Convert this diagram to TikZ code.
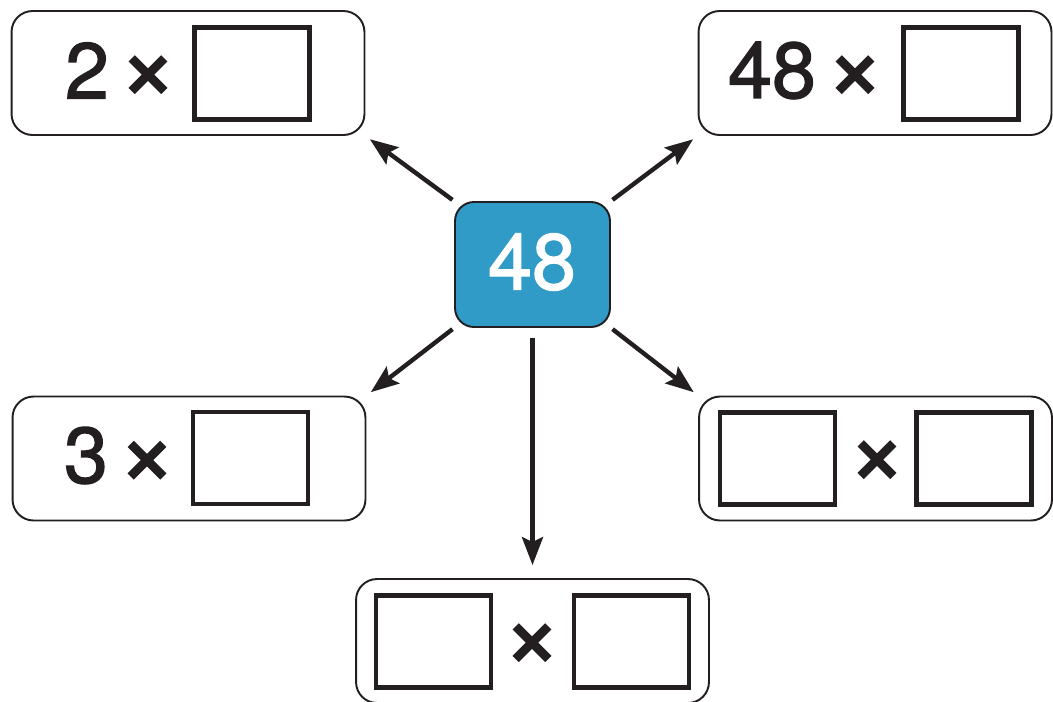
\documentclass[tikz,border=0pt]{standalone}
\usepackage{fontspec}
\setmainfont{TeX Gyre Heros}
\newfontfamily\numfont[FakeBold=1.6]{TeX Gyre Heros}
\newfontfamily\timesfont[FakeBold=2.2]{TeX Gyre Heros}
\usetikzlibrary{arrows.meta}
\definecolor{inkblack}{HTML}{231F20}
\definecolor{tileblue}{RGB}{48,155,199}
\tikzset{
  outerbox/.style={draw=inkblack, line width=1.1pt, rounded corners=0.42cm,
    minimum width=7.06cm, minimum height=2.48cm, inner sep=0pt},
  centrebox/.style={draw=inkblack, fill=tileblue, line width=1.1pt, rounded corners=0.38cm,
    minimum width=3.1cm, minimum height=2.5cm, inner sep=0pt},
  blankbox/.style={draw=inkblack, line width=2.8pt,
    minimum width=2.3cm, minimum height=1.84cm, inner sep=0pt},
  numtext/.style={inner sep=0pt, text=inkblack, font=\numfont\fontsize{45}{50}\selectfont},
  timestext/.style={inner sep=0pt, text=inkblack, font=\timesfont\fontsize{56}{60}\selectfont},
  arrowline/.style={draw=inkblack, line width=2.5pt,
    -{Stealth[length=0.56cm,width=0.42cm,inset=0.1cm]},
    shorten <=0.04cm, shorten >=0.11cm},
}

\begin{document}
\begin{tikzpicture}[x=0.02cm,y=-0.02cm]
		\useasboundingbox (0,0) rectangle (1053,701);
		
		%%%%% CENTRE %%%%%
		\node[centrebox] (c) at (532.5,264.5) {};
		\node[numtext, text=white] (cnum) at (532,262) {48};
		
		%%%%% TOP LEFT %%%%%
		\node[outerbox] (tl) at (188,73) {};
		\node[numtext] (tlnum) at (87,70.5) {2};
		\node[timestext] (tltimes) at (148,78) {×};
		\node[blankbox] (tlsq) at (252,73.5) {};
		
		%%%%% TOP RIGHT %%%%%
		\node[outerbox] (tr) at (875,73) {};
		\node[numtext] (trnum) at (772,70.5) {48};
		\node[timestext] (trtimes) at (855,78) {×};
		\node[blankbox] (trsq) at (961,73.5) {};
		
		%%%%% BOTTOM LEFT %%%%%
		\node[outerbox] (bl) at (189,458.5) {};
		\node[numtext] (blnum) at (86,455.5) {3};
		\node[timestext] (bltimes) at (147,463.5) {×};
		\node[blankbox] (blsq) at (250.5,458) {};
		
		%%%%% BOTTOM RIGHT %%%%%
		\node[outerbox] (br) at (875.5,458.5) {};
		\node[blankbox] (brsqa) at (777.5,458.5) {};
		\node[timestext] (brtimes) at (877,463) {×};
		\node[blankbox] (brsqb) at (974,458.5) {};
		
		%%%%% BOTTOM %%%%%
		\node[outerbox] (bm) at (532.5,641) {};
		\node[blankbox] (bmsqa) at (433.5,641.5) {};
		\node[timestext] (bmtimes) at (532,646) {×};
		\node[blankbox] (bmsqb) at (631.5,641.5) {};
		
		%%%%% ARROWS %%%%%
		\draw[arrowline] (c.north west) -- (tl.south east);
		\draw[arrowline] (c.north east) -- (tr.south west);
		\draw[arrowline] (c.south west) -- (bl.north east);
		\draw[arrowline] (c.south east) -- (br.north west);
		\draw[arrowline, shorten <=0.2cm, shorten >=0.26cm] (c.south) -- (bm.north);
	\end{tikzpicture}
\end{document}
